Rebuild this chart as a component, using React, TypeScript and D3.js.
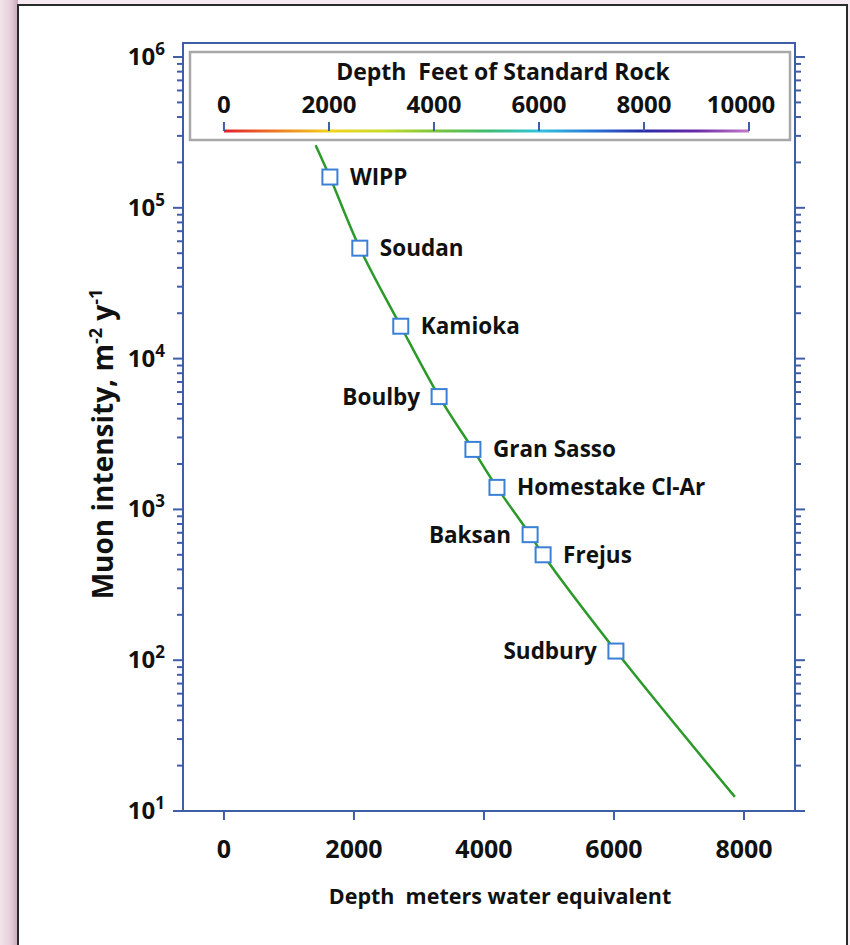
import React, { useEffect, useRef } from "react";
import * as d3 from "d3";

// depth in meters water equivalent, intensity in muons per m^2 per year
const sites = ["WIPP", "Soudan", "Kamioka", "Boulby", "Gran Sasso", "Homestake Cl-Ar", "Baksan", "Frejus", "Sudbury"];
const siteDepth = [1630, 2090, 2720, 3310, 3830, 4200, 4710, 4910, 6030];
const siteIntensity = [1.6e5, 5.4e4, 1.64e4, 5.6e3, 2.5e3, 1.4e3, 680, 500, 115];
const labelSide = ["right", "right", "right", "left", "right", "right", "left", "right", "left"];

// the fitted curve
const curveDepth = [1410, 1630, 2090, 2720, 3310, 3830, 4200, 4710, 4910, 6030, 7860];
const curveIntensity = [2.6e5, 1.6e5, 5.4e4, 1.64e4, 5.6e3, 2.5e3, 1.4e3, 680, 500, 115, 12.4];

const depthTicks = [0, 2000, 4000, 6000, 8000];
const yExponents = [1, 2, 3, 4, 5, 6];
const feetTicks = [0, 2000, 4000, 6000, 8000, 10000];
const rainbowStops = ["#e0202c", "#ee7a22", "#f2d21e", "#c8dc2a", "#7cc43a", "#3cbc6c", "#30c4dc", "#2a78d8", "#2a2aa8", "#6a2aa8", "#c27ac8"];

const FT_TO_MWE = 0.3048 * 2.65;
const AXIS = "#3e5ea8";
const FONT = "'Open Sans', 'DejaVu Sans', sans-serif";

export default function App() {
  const ref = useRef<SVGSVGElement>(null);

  useEffect(() => {
    const svg = d3.select(ref.current);
    svg.selectAll("*").remove();

    const width = 850, height = 945;
    const left = 183, right = 795, top = 43, bottom = 811;

    const x = d3.scaleLinear().domain([-630, 8785]).range([left, right]);
    const y = d3.scaleLog().domain([10, Math.pow(10, 6.093)]).range([bottom, top]);

    // page background and frame
    const defs = svg.append("defs");
    const bg = defs.append("linearGradient").attr("id", "bgside").attr("x1", 0).attr("x2", 1);
    bg.append("stop").attr("offset", 0).attr("stop-color", "#f2e4ea");
    bg.append("stop").attr("offset", 0.6).attr("stop-color", "#e6cfd9");
    bg.append("stop").attr("offset", 1).attr("stop-color", "#c9a9b8");
    svg.append("rect").attr("width", width).attr("height", height).attr("fill", "#f5eaef");
    svg.append("rect").attr("x", 0).attr("y", 0).attr("width", 18).attr("height", height).attr("fill", "url(#bgside)");
    svg.append("rect").attr("x", 18).attr("y", 5).attr("width", 829).attr("height", height)
      .attr("fill", "#fff").attr("stroke", "#2a2a2a").attr("stroke-width", 2);

    // plot frame
    svg.append("rect").attr("x", left).attr("y", top).attr("width", right - left).attr("height", bottom - top)
      .attr("fill", "none").attr("stroke", AXIS).attr("stroke-width", 2);

    // y ticks, left (outward) and right (outward)
    const minor: number[] = [];
    for (let e = 1; e < 7; e++) for (let m = 2; m <= 9; m++) {
      const v = m * Math.pow(10, e);
      if (v <= y.domain()[1]) minor.push(v);
    }
    const yMajor = yExponents.map(e => Math.pow(10, e));
    const ticks = svg.append("g").attr("stroke", AXIS).attr("stroke-width", 2);
    ticks.selectAll(".lmaj").data(yMajor).join("line")
      .attr("x1", left - 10).attr("x2", left).attr("y1", d => y(d)).attr("y2", d => y(d));
    ticks.selectAll(".lmin").data(minor).join("line")
      .attr("x1", left - 6).attr("x2", left).attr("y1", d => y(d)).attr("y2", d => y(d));
    ticks.selectAll(".rmaj").data(yMajor).join("line")
      .attr("x1", right).attr("x2", right + 10).attr("y1", d => y(d)).attr("y2", d => y(d));
    ticks.selectAll(".rmin").data(minor).join("line")
      .attr("x1", right).attr("x2", right + 6).attr("y1", d => y(d)).attr("y2", d => y(d));
    ticks.selectAll(".xt").data(depthTicks).join("line")
      .attr("x1", d => x(d)).attr("x2", d => x(d)).attr("y1", bottom).attr("y2", bottom + 9);

    // y tick labels with superscript exponent
    const yl = svg.append("g").attr("font-family", FONT).attr("font-weight", 700).attr("fill", "#111");
    yExponents.forEach(e => {
      const t = yl.append("text").attr("x", left - 18).attr("y", y(Math.pow(10, e)) + 8)
        .attr("text-anchor", "end").attr("font-size", 24);
      t.append("tspan").text("10");
      t.append("tspan").attr("font-size", 17).attr("dy", -10).text(String(e));
    });

    // x tick labels
    svg.append("g").attr("font-family", FONT).attr("font-weight", 700).attr("font-size", 25).attr("fill", "#111")
      .selectAll("text").data(depthTicks).join("text")
      .attr("x", d => x(d)).attr("y", 858).attr("text-anchor", "middle").text(d => String(d));

    // axis titles
    svg.append("text").attr("x", 500).attr("y", 904).attr("text-anchor", "middle")
      .attr("font-family", FONT).attr("font-weight", 700).attr("font-size", 21.5).attr("fill", "#111")
      .text("Depth\u00a0 meters water equivalent");
    const yt = svg.append("text").attr("transform", "translate(113,444) rotate(-90)").attr("text-anchor", "middle")
      .attr("font-family", FONT).attr("font-weight", 700).attr("font-size", 28).attr("fill", "#111");
    yt.append("tspan").text("Muon intensity, m");
    yt.append("tspan").attr("font-size", 18).attr("dy", -11).text("-2");
    yt.append("tspan").attr("dy", 11).text(" y");
    yt.append("tspan").attr("font-size", 18).attr("dy", -11).text("-1");

    // legend: feet of standard rock colour bar
    svg.append("rect").attr("x", 190).attr("y", 52).attr("width", 600).attr("height", 88)
      .attr("fill", "#fff").attr("stroke", "#a8a8a8").attr("stroke-width", 2.5);
    svg.append("text").attr("x", 503).attr("y", 80).attr("text-anchor", "middle")
      .attr("font-family", FONT).attr("font-weight", 700).attr("font-size", 23).attr("fill", "#111")
      .text("Depth\u00a0 Feet of Standard Rock");
    const fx = (ft: number) => x(ft * FT_TO_MWE);
    const rg = defs.append("linearGradient").attr("id", "rainbow")
      .attr("gradientUnits", "userSpaceOnUse").attr("x1", fx(0)).attr("x2", fx(10000)).attr("y1", 0).attr("y2", 0);
    rainbowStops.forEach((c, i) => rg.append("stop").attr("offset", i / (rainbowStops.length - 1)).attr("stop-color", c));
    const barY = 131;
    svg.append("rect").attr("x", fx(0)).attr("y", barY - 1.5).attr("width", fx(10000) - fx(0)).attr("height", 3)
      .attr("fill", "url(#rainbow)");
    svg.append("g").attr("stroke", AXIS).attr("stroke-width", 2)
      .selectAll("line").data(feetTicks).join("line")
      .attr("x1", d => fx(d)).attr("x2", d => fx(d)).attr("y1", barY - 9).attr("y2", barY);
    svg.append("g").attr("font-family", FONT).attr("font-weight", 700).attr("font-size", 24).attr("fill", "#111")
      .selectAll("text").data(feetTicks).join("text")
      .attr("x", d => Math.min(fx(d), 741)).attr("y", 113).attr("text-anchor", "middle").text(d => String(d));

    // curve
    const line = d3.line<number>()
      .x((d, i) => x(curveDepth[i]))
      .y((d, i) => y(curveIntensity[i]))
      .curve(d3.curveCatmullRom);
    svg.append("path").datum(curveDepth).attr("d", line).attr("fill", "none")
      .attr("stroke", "#2c9a2a").attr("stroke-width", 2.5);

    // lab markers and labels
    const s = 15;
    const g = svg.append("g").selectAll("g").data(sites).join("g")
      .attr("transform", (d, i) => `translate(${x(siteDepth[i])},${y(siteIntensity[i])})`);
    g.append("rect").attr("x", -s / 2).attr("y", -s / 2).attr("width", s).attr("height", s)
      .attr("fill", "#fff").attr("stroke", "#3a80d6").attr("stroke-width", 2);
    g.append("text")
      .attr("x", (d, i) => labelSide[i] === "right" ? 20 : -19)
      .attr("y", 8)
      .attr("text-anchor", (d, i) => labelSide[i] === "right" ? "start" : "end")
      .attr("font-family", FONT).attr("font-weight", 700).attr("font-size", 22.5).attr("fill", "#111")
      .text(d => d);
  }, []);

  return <svg ref={ref} width={850} height={945} style={{ position: "absolute", left: 0, top: 0 }} />;
}
